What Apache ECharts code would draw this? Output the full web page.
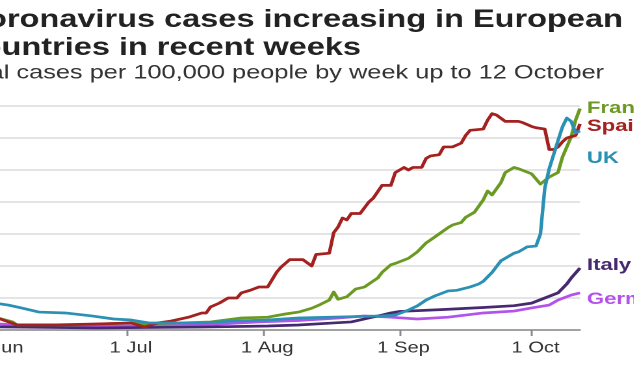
<!DOCTYPE html>
<html>
<head>
<meta charset="utf-8">
<script src="https://cdn.jsdelivr.net/npm/echarts@6/dist/echarts.min.js"></script>
<style>
  html, body { margin: 0; padding: 0; background: #fff; overflow: hidden; width: 635px; height: 380px; }
  #chart { position: absolute; left: 0; top: 0; width: 488.46px; height: 380px; transform: scaleX(1.3); transform-origin: 0 0; }
</style>
</head>
<body>
<div id="chart"></div>
<script>
// ---- data (7-day cases per 100,000 people) ----
const titleText = 'Coronavirus cases increasing in European\ncountries in recent weeks';
const subtitleText = 'Total cases per 100,000 people by week up to 12 October';
const countries = ['France', 'Spain', 'UK', 'Italy', 'Germany'];
const colors = ['#6b9a22', '#a3211f', '#2a91b4', '#46296f', '#b452ec'];
const tickLabels = ['1 Jun', '1 Jul', '1 Aug', '1 Sep', '1 Oct'];
const xStart = '2020-06-01';
const xEnd = '2020-10-12';

const france = [['2020-06-01',10],['2020-06-05',6.3],['2020-06-06',4],['2020-06-20',4],['2020-07-02',5.5],['2020-07-05',4.7],['2020-07-13',5.5],['2020-07-20',6.3],['2020-07-27',9.4],['2020-08-02',10],['2020-08-06',12.5],['2020-08-09',14],['2020-08-12',17],['2020-08-14',20],['2020-08-16',23.4],['2020-08-17',29.7],['2020-08-18',24],['2020-08-20',26],['2020-08-22',32],['2020-08-24',33.6],['2020-08-27',40.6],['2020-08-28',45],['2020-08-30',51],['2020-08-31',52],['2020-09-03',56],['2020-09-05',61],['2020-09-07',68],['2020-09-09',72.7],['2020-09-12',80],['2020-09-13',82],['2020-09-15',84],['2020-09-16',88],['2020-09-18',92],['2020-09-20',101.6],['2020-09-21',108.6],['2020-09-22',105.5],['2020-09-24',115],['2020-09-25',123],['2020-09-27',127],['2020-09-28',126],['2020-10-01',122],['2020-10-03',114],['2020-10-05',119.5],['2020-10-07',123],['2020-10-08',135],['2020-10-10',151],['2020-10-11',164],['2020-10-12',173]];

const spain = [['2020-06-01',10],['2020-06-06',4],['2020-06-15',4],['2020-06-24',4.7],['2020-07-02',5.5],['2020-07-05',2.3],['2020-07-08',5.5],['2020-07-11',7],['2020-07-15',10],['2020-07-18',13.3],['2020-07-19',13.3],['2020-07-20',18],['2020-07-22',21],['2020-07-24',25],['2020-07-26',25],['2020-07-27',29],['2020-07-29',31],['2020-07-31',33.6],['2020-08-02',33.6],['2020-08-04',45],['2020-08-05',49],['2020-08-07',55],['2020-08-10',55],['2020-08-12',50],['2020-08-13',59],['2020-08-16',60],['2020-08-17',76],['2020-08-18',80.5],['2020-08-19',87.5],['2020-08-20',86],['2020-08-21',91],['2020-08-23',91],['2020-08-25',100],['2020-08-26',103],['2020-08-27',108],['2020-08-28',113],['2020-08-30',113],['2020-08-31',123],['2020-09-02',127],['2020-09-03',125],['2020-09-04',127],['2020-09-06',127],['2020-09-07',134],['2020-09-08',136],['2020-09-10',137],['2020-09-11',143],['2020-09-13',143],['2020-09-15',146],['2020-09-16',152],['2020-09-17',156],['2020-09-20',157],['2020-09-21',164],['2020-09-22',169],['2020-09-23',168],['2020-09-25',163],['2020-09-28',163],['2020-09-29',162],['2020-10-01',159],['2020-10-02',158],['2020-10-04',157],['2020-10-05',141],['2020-10-06',141],['2020-10-07',143],['2020-10-08',147],['2020-10-09',150],['2020-10-11',152],['2020-10-12',161]];

const uk = [['2020-06-01',21],['2020-06-04',19.5],['2020-06-07',17.2],['2020-06-11',14],['2020-06-17',13.3],['2020-06-23',11],['2020-06-28',8.6],['2020-07-02',7.8],['2020-07-06',5.5],['2020-07-18',5.5],['2020-07-25',7],['2020-08-02',7.8],['2020-08-09',9.4],['2020-08-16',10],['2020-08-28',11],['2020-08-31',11.7],['2020-09-03',15.6],['2020-09-05',18.8],['2020-09-07',23.4],['2020-09-09',26.6],['2020-09-12',30.5],['2020-09-14',31],['2020-09-17',33.6],['2020-09-19',36],['2020-09-20',38],['2020-09-22',45],['2020-09-24',54],['2020-09-27',60],['2020-09-28',61],['2020-09-30',65],['2020-10-02',65.6],['2020-10-03',75],['2020-10-04',111],['2020-10-05',126],['2020-10-06',137],['2020-10-07',148],['2020-10-08',158.6],['2020-10-09',165.6],['2020-10-10',163],['2020-10-11',154],['2020-10-12',155.5]];

const italy = [['2020-06-01',2.5],['2020-06-24',1.6],['2020-07-18',2.3],['2020-08-02',3.1],['2020-08-09',3.9],['2020-08-17',5.5],['2020-08-21',6.3],['2020-08-25',9.4],['2020-08-28',11.7],['2020-08-30',13.3],['2020-09-01',14.5],['2020-09-11',16],['2020-09-20',17.6],['2020-09-27',19],['2020-10-01',21],['2020-10-04',25],['2020-10-07',29],['2020-10-09',36],['2020-10-10',40.6],['2020-10-12',48.4]];

const germany = [['2020-06-01',5],['2020-06-09',3.1],['2020-06-25',3.1],['2020-07-08',3.1],['2020-07-18',3.9],['2020-07-31',6.3],['2020-08-09',7.4],['2020-08-18',9.4],['2020-08-24',11],['2020-08-30',10],['2020-09-05',8.6],['2020-09-12',10],['2020-09-20',13.3],['2020-09-27',14.8],['2020-10-01',17.2],['2020-10-05',19.5],['2020-10-07',23.4],['2020-10-10',27.3],['2020-10-12',29]];

const seriesData = { France: france, Spain: spain, UK: uk, Italy: italy, Germany: germany };
// label vertical centres (px) for the end labels
const labelY = { France: 107, Spain: 125, UK: 157, Italy: 264, Germany: 298 };
const drawOrder = ['Germany', 'Italy', 'France', 'Spain', 'UK'];

const chart = echarts.init(document.getElementById('chart'), null, { renderer: 'canvas', devicePixelRatio: 2 });
const font = 'Liberation Sans, Arial, Helvetica, sans-serif';

const option = {
  animation: false,
  backgroundColor: '#fff',
  title: [
    { text: titleText, left: -33, top: 1,
      textStyle: { fontFamily: font, fontSize: 25, fontWeight: 'bold', color: '#222', lineHeight: 28 } },
    { text: subtitleText, left: -39, top: 58,
      textStyle: { fontFamily: font, fontSize: 19.5, fontWeight: 'normal', color: '#333' } }
  ],
  grid: { left: -3.85, top: 106, width: 450, height: 224, containLabel: false, outerBoundsMode: 'none' },
  xAxis: {
    type: 'time',
    min: xStart,
    max: xEnd,
    minInterval: 28 * 864e5,
    splitLine: { show: false },
    axisLine: { show: true, lineStyle: { color: '#8a8a8a', width: 1.5 } },
    axisTick: { show: true, length: 6, lineStyle: { color: '#8a8a8a', width: 1.5 } },
    minorTick: { show: false },
    axisLabel: {
      show: true, margin: 10, color: '#333', fontFamily: font, fontSize: 15.5,
      padding: [0, 0, 0, 6],
      showMinLabel: true, showMaxLabel: false, hideOverlap: false,
      formatter: function (val) {
        const d = new Date(val);
        if (d.getDate() !== 1) return '';
        const idx = d.getMonth() - 5;
        return tickLabels[idx] || '';
      }
    }
  },
  yAxis: {
    type: 'value', min: 0, max: 175, interval: 25,
    axisLine: { show: false }, axisTick: { show: false }, axisLabel: { show: false },
    splitLine: { show: true, lineStyle: { color: '#dcdcdc', width: 1.5 } }
  },
  series: drawOrder.map(function (name, i) {
    return {
      name: name, type: 'line', data: seriesData[name], showSymbol: false, symbol: 'none',
      z: 2 + i, smooth: false,
      lineStyle: { color: colors[countries.indexOf(name)], width: 2.7, join: 'round' }
    };
  }),
  graphic: countries.map(function (name, i) {
    return {
      type: 'text', left: 451.5, top: labelY[name] - 7,
      style: { text: name, fill: colors[i], font: 'bold 17px ' + font }
    };
  })
};
chart.setOption(option);
</script>
</body>
</html>
